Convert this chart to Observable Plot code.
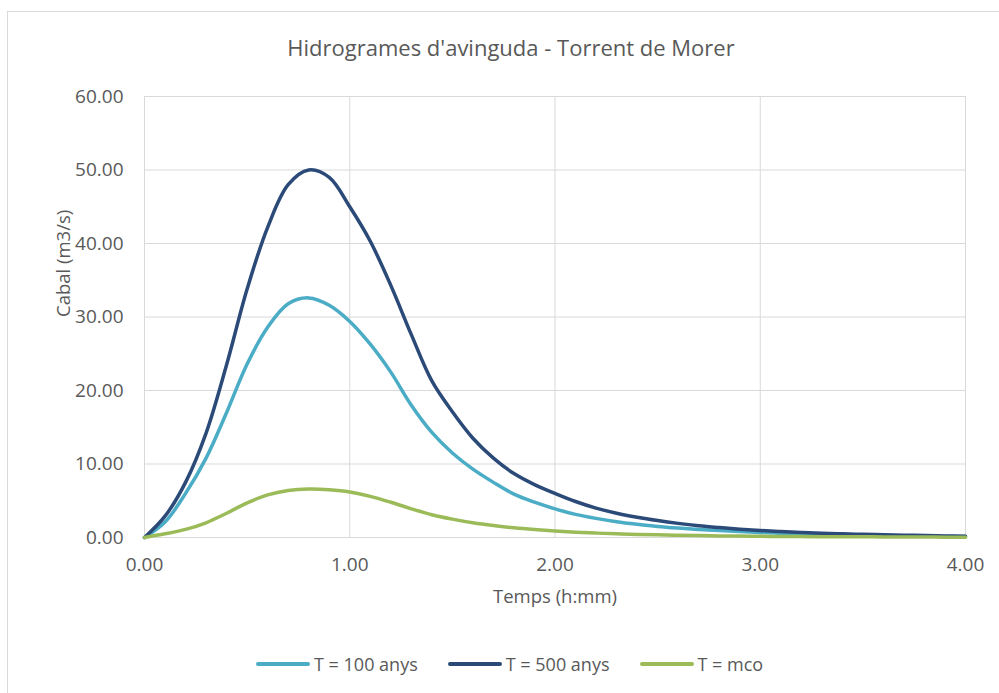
<!DOCTYPE html>
<html>
<head>
<meta charset="utf-8">
<script src="https://cdn.jsdelivr.net/npm/d3@7"></script>
<script src="https://cdn.jsdelivr.net/npm/@observablehq/plot@0.6"></script>
<style>
  html, body { margin: 0; padding: 0; background: #fff; }
  #chart { position: relative; width: 999px; height: 693px; overflow: hidden; font-family: "Open Sans", sans-serif; }
  #frame { position: absolute; left: 7px; top: 11px; width: 1000px; height: 700px; border: 1px solid #d9d9d9; box-sizing: border-box; }
  #plot { position: absolute; left: 0; top: 0; }
  #legend { position: absolute; left: 256px; top: 652px; display: flex; align-items: center; font-size: 18px; color: #595959; white-space: nowrap; }
  .item { display: flex; align-items: center; margin-right: 30px; }
  .swatch { width: 54px; height: 4px; border-radius: 2px; margin-right: 4px; }
</style>
</head>
<body>
<div id="chart">
  <div id="frame"></div>
  <div id="plot"></div>
  <div id="legend"></div>
</div>
<script>
// Flood hydrographs: discharge (m3/s) against time (h)
const title = "Hidrogrames d'avinguda - Torrent de Morer";
const xLabel = "Temps (h:mm)";
const yLabel = "Cabal (m3/s)";

const seriesNames = ["T = 100 anys", "T = 500 anys", "T = mco"];
const seriesColors = ["#4bacc6", "#2b4a78", "#9bbb59"];

const xTicks = [0, 1, 2, 3, 4];
const yTicks = [0, 10, 20, 30, 40, 50, 60];

const times = [0.0, 0.1, 0.2, 0.3, 0.4, 0.5, 0.6, 0.7, 0.8, 0.9,
               1.0, 1.1, 1.2, 1.3, 1.4, 1.5, 1.6, 1.7, 1.8, 1.9,
               2.0, 2.1, 2.2, 2.3, 2.4, 2.5, 2.6, 2.7, 2.8, 2.9,
               3.0, 3.1, 3.2, 3.3, 3.4, 3.5, 3.6, 3.7, 3.8, 3.9, 4.0];

const q100 = [0, 2.1, 6.0, 10.8, 17.0, 23.6, 28.6, 31.8, 32.6, 31.6,
              29.4, 26.3, 22.5, 18.0, 14.3, 11.5, 9.3, 7.5, 5.9, 4.8,
              3.9, 3.15, 2.6, 2.15, 1.8, 1.5, 1.28, 1.1, 0.94, 0.8,
              0.68, 0.58, 0.5, 0.43, 0.37, 0.32, 0.27, 0.23, 0.19, 0.15, 0.12];

const q500 = [0, 2.9, 7.5, 14.2, 23.5, 33.8, 42.2, 48.0, 50.0, 49.0,
              45.0, 40.3, 34.3, 27.6, 21.3, 17.1, 13.5, 10.8, 8.7, 7.2,
              6.0, 4.9, 4.0, 3.3, 2.75, 2.3, 1.92, 1.6, 1.35, 1.13,
              0.95, 0.8, 0.68, 0.58, 0.5, 0.43, 0.37, 0.32, 0.27, 0.22, 0.18];

const qmco = [0, 0.5, 1.1, 2.0, 3.3, 4.7, 5.8, 6.4, 6.6, 6.5,
              6.2, 5.6, 4.8, 3.9, 3.1, 2.5, 2.0, 1.62, 1.32, 1.08,
              0.88, 0.72, 0.6, 0.5, 0.42, 0.36, 0.3, 0.26, 0.22, 0.19,
              0.16, 0.14, 0.12, 0.11, 0.1, 0.09, 0.08, 0.07, 0.06, 0.05, 0.05];

// Long-format table for the line mark
const seriesValues = [q100, q500, qmco];
const rows = [];
seriesNames.forEach((name, i) => {
  times.forEach((t, j) => rows.push({series: name, t, q: seriesValues[i][j]}));
});

const fmt = d3.format(".2f");
const textColor = "#595959";
const gridColor = "#d9d9d9";

const chart = Plot.plot({
  width: 999,
  height: 620,
  marginTop: 96,
  marginBottom: 83,
  marginLeft: 144,
  marginRight: 34,
  style: {fontFamily: "'Open Sans', sans-serif", fontSize: "19px", color: textColor, background: "transparent"},
  x: {domain: [0, 4]},
  y: {domain: [0, 60]},
  color: {domain: seriesNames, range: seriesColors},
  marks: [
    Plot.ruleY(yTicks, {stroke: gridColor, strokeWidth: 1}),
    Plot.ruleX(xTicks, {stroke: gridColor, strokeWidth: 1}),
    Plot.axisY({ticks: yTicks, tickSize: 0, tickPadding: 21, tickFormat: fmt, label: null, fill: textColor}),
    Plot.axisX({ticks: xTicks, tickSize: 0, tickPadding: 20, tickFormat: fmt, label: null, fill: textColor}),
    Plot.line(rows, {x: "t", y: "q", stroke: "series", curve: "catmull-rom", strokeWidth: 3.5, strokeLinecap: "round", strokeLinejoin: "round"}),
    Plot.text([title], {frameAnchor: "top", lineAnchor: "middle", dx: -44, dy: -48, fontSize: 22, fill: textColor}),
    Plot.text([xLabel], {frameAnchor: "bottom", lineAnchor: "middle", dy: 60, fontSize: 18.5, fill: textColor}),
    Plot.text([yLabel], {frameAnchor: "left", lineAnchor: "middle", dx: -80, rotate: -90, fontSize: 18.5, fill: textColor})
  ]
});
document.getElementById("plot").appendChild(chart);

// Legend below the plot
const legend = document.getElementById("legend");
seriesNames.forEach((name, i) => {
  const item = document.createElement("div");
  item.className = "item";
  const sw = document.createElement("span");
  sw.className = "swatch";
  sw.style.background = seriesColors[i];
  const label = document.createElement("span");
  label.textContent = name;
  item.appendChild(sw);
  item.appendChild(label);
  legend.appendChild(item);
});
</script>
</body>
</html>
